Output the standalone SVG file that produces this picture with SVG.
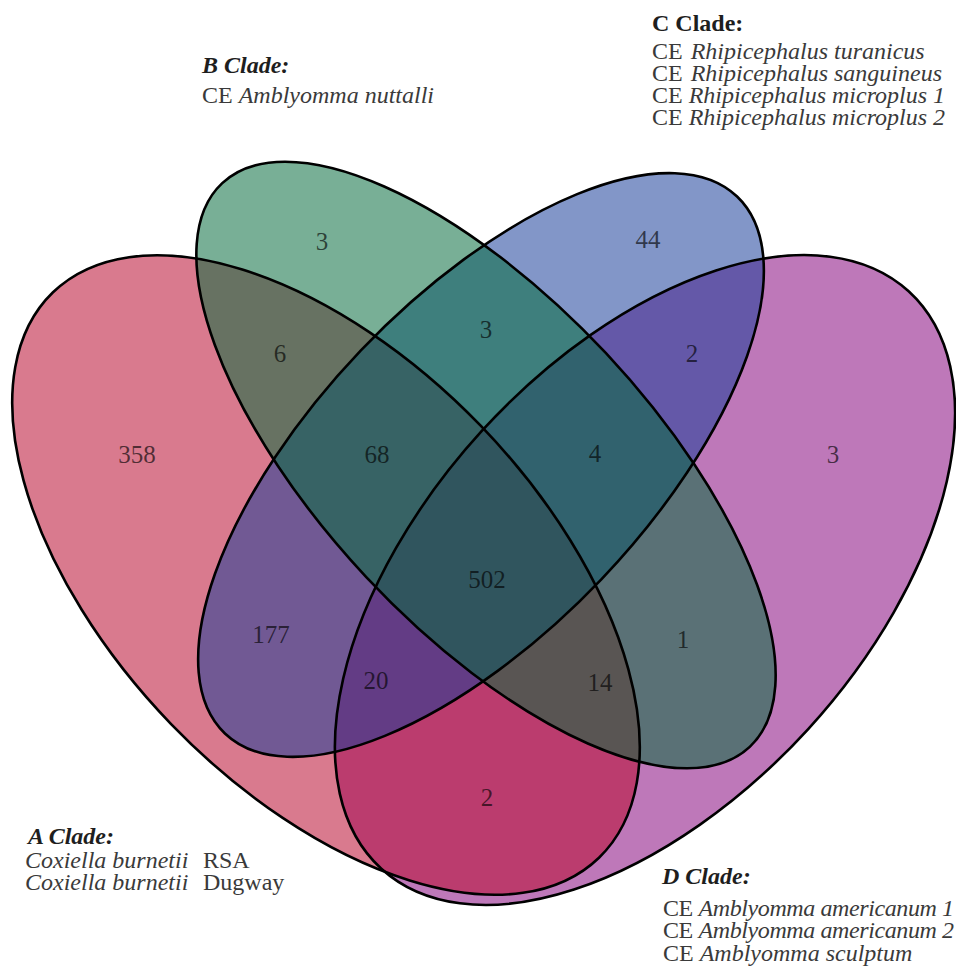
<svg xmlns="http://www.w3.org/2000/svg" width="956" height="974" viewBox="0 0 956 974">
<style>
 .num { font-family: "Liberation Serif", "Times New Roman", serif; font-size: 25px; text-anchor: middle; fill: #000; fill-opacity: 0.64; }
 .lbl { font-family: "Liberation Serif", "Times New Roman", serif; font-size: 24px; fill: #3a3a3a; }
 .ttl { font-weight: bold; fill: #1e1e1e; }
 .it { font-style: italic; }
 .tight { letter-spacing: -0.4px; }
 .fill { fill-opacity: 0.54; stroke: none; }
 .edge { fill: none; stroke: #000; stroke-width: 2.6; }
</style>
<defs>
 <ellipse id="eA" cx="326" cy="575" rx="393" ry="215" transform="rotate(46 326 575)"/>
 <ellipse id="eB" cx="486" cy="465" rx="386" ry="164" transform="rotate(46.9 486 465)"/>
 <ellipse id="eC" cx="481" cy="465" rx="371" ry="166" transform="rotate(-46.35 481 465)"/>
 <ellipse id="eD" cx="645" cy="580" rx="391" ry="221" transform="rotate(-47.6 645 580)"/>
</defs>
<rect width="956" height="974" fill="#ffffff"/>
<g id="fills">
 <use href="#eD" class="fill" fill="#87057D"/>
 <use href="#eA" class="fill" fill="#B9092E"/>
 <use href="#eC" class="fill" fill="#183D99"/>
 <use href="#eB" class="fill" fill="#056B3D"/>
</g>
<g id="outlines">
 <use href="#eD" class="edge"/>
 <use href="#eA" class="edge"/>
 <use href="#eC" class="edge"/>
 <use href="#eB" class="edge"/>
</g>
<g id="counts">
 <text class="num" x="137" y="463">358</text>
 <text class="num" x="322" y="250">3</text>
 <text class="num" x="648" y="248">44</text>
 <text class="num" x="833" y="463">3</text>
 <text class="num" x="280" y="362">6</text>
 <text class="num" x="486" y="338">3</text>
 <text class="num" x="692" y="362">2</text>
 <text class="num" x="377" y="463">68</text>
 <text class="num" x="595" y="462">4</text>
 <text class="num" x="487" y="588">502</text>
 <text class="num" x="271" y="643">177</text>
 <text class="num" x="683" y="648">1</text>
 <text class="num" x="376" y="689">20</text>
 <text class="num" x="600" y="691">14</text>
 <text class="num" x="487" y="806">2</text>
</g>
<g id="label-A">
 <text class="lbl ttl it" x="28" y="844">A Clade:</text>
 <text class="lbl" y="868"><tspan class="it" x="25">Coxiella burnetii</tspan><tspan x="203">RSA</tspan></text>
 <text class="lbl" y="890"><tspan class="it" x="25">Coxiella burnetii</tspan><tspan x="203">Dugway</tspan></text>
</g>
<g id="label-B">
 <text class="lbl ttl it" x="202" y="73">B Clade:</text>
 <text class="lbl" x="202" y="103">CE <tspan class="it">Amblyomma nuttalli</tspan></text>
</g>
<g id="label-C">
 <text class="lbl ttl" x="652" y="31">C Clade:</text>
 <text class="lbl" x="652" y="59">CE <tspan class="it" dx="2">Rhipicephalus turanicus</tspan></text>
 <text class="lbl" x="652" y="81">CE <tspan class="it" dx="2">Rhipicephalus sanguineus</tspan></text>
 <text class="lbl" x="652" y="103">CE <tspan class="it">Rhipicephalus microplus 1</tspan></text>
 <text class="lbl" x="652" y="125">CE <tspan class="it">Rhipicephalus microplus 2</tspan></text>
</g>
<g id="label-D">
 <text class="lbl ttl it" x="662" y="884">D Clade:</text>
 <text class="lbl tight" x="663" y="916">CE <tspan class="it">Amblyomma americanum 1</tspan></text>
 <text class="lbl tight" x="663" y="938">CE <tspan class="it">Amblyomma americanum 2</tspan></text>
 <text class="lbl" x="663" y="961">CE <tspan class="it">Amblyomma sculptum</tspan></text>
</g>
</svg>
